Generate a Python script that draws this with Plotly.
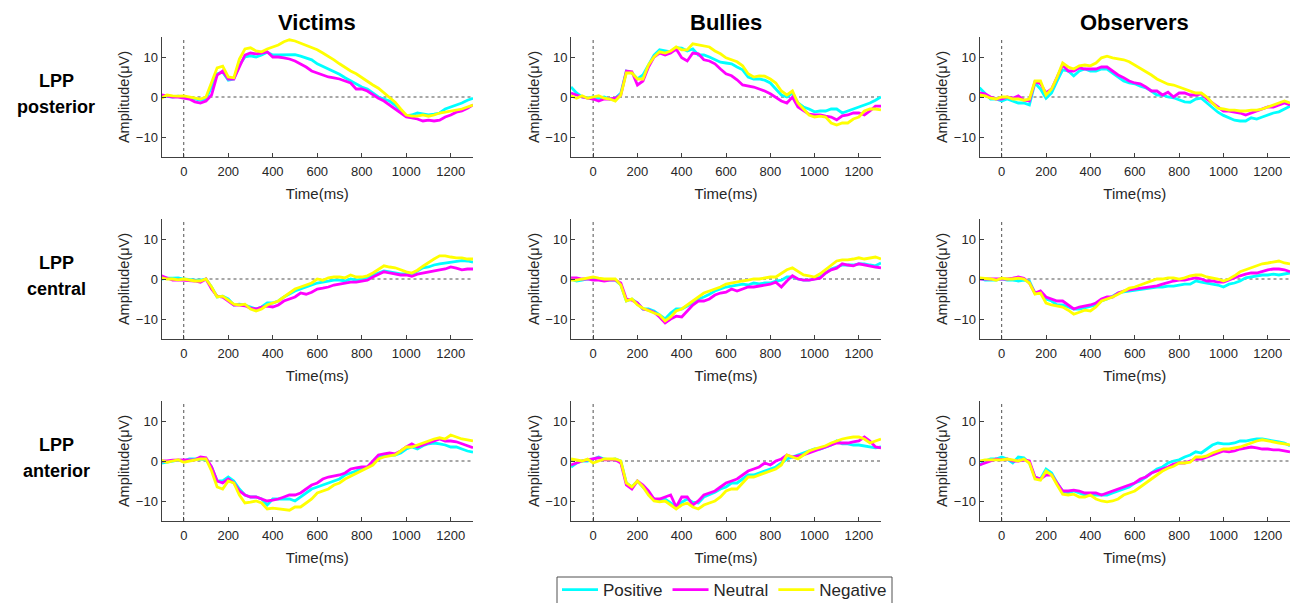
import plotly.graph_objects as go

# ---------------- data ----------------
T = list(range(-100, 1301, 25))

columns = ["Victims", "Bullies", "Observers"]
rows = [["LPP", "posterior"], ["LPP", "central"], ["LPP", "anterior"]]
conditions = ["Positive", "Neutral", "Negative"]
colors = ["#00FFFF", "#FF00FF", "#FFFF00"]

x_ticks = [0, 200, 400, 600, 800, 1000, 1200]
y_ticks = [-10, 0, 10]

# --- Victims, posterior ---
vic_post_pos = [0.3, 0.2, 0, 0.2, 0, -0.3, -0.5, -0.8, -0.5,
                2.5, 5.8, 6.2, 4.2, 4.5, 8, 10, 10.3,
                10, 10.5, 11.2, 10.5, 10.5, 10.5, 10.5, 10.6,
                10.2, 9.8, 9.3, 8.3, 7.7, 7.0, 6.3, 5.7,
                4.8, 4.0, 3.3, 2.5, 2, 1, 0, -0.5,
                -1, -2, -3.5, -4.7, -4.5, -4, -4.3, -4.5,
                -4.3, -4, -3, -2.5, -2, -1.5, -0.8, -0.3]
vic_post_neu = [0.5, 0.3, 0, 0, -0.2, -0.5, -1.2, -1.5, -1,
                0.5, 5.5, 6.5, 4.5, 4.5, 7.5, 10.5, 11,
                10.8, 11, 11.3, 10, 10, 9.8, 9.5, 9,
                8.3, 7.5, 6.5, 6, 5.5, 5, 4.8, 4.5,
                4, 3.5, 2, 2, 1.5, 0.5, -0.3, -1,
                -2, -3, -4, -5, -5.2, -5.5, -6, -5.8,
                -6, -5.8, -5, -4.5, -3.8, -3.5, -2.8, -2]
vic_post_neg = [-0.3, 0.5, 0.3, 0.2, 0.3, 0, -0.3, -0.5, 0,
                3.5, 7.3, 7.7, 5, 4.8, 9.5, 12, 12.3,
                11.5, 11.3, 12, 12.5, 13, 13.8, 14.3, 14,
                13.5, 12.8, 12.3, 11.8, 11, 10.2, 9.3, 8.3,
                7.3, 6.5, 5.8, 4.8, 3.8, 3, 2.2, 1,
                0, -1.3, -3, -4.5, -4.8, -4.8, -4.5, -4.8,
                -4.5, -4, -3.8, -3.5, -3.3, -3, -2.5, -2]

# --- Bullies, posterior ---
bul_post_pos = [2.5, 1, 0, -0.2, 0, -0.3, 0, -0.5, -0.3,
                1, 6.5, 6, 4.5, 5.5, 8, 10.5, 11.8,
                11.5, 11.3, 12.3, 12.2, 11.5, 12, 10.5, 10.5,
                10, 9.3, 8.7, 8.5, 8.3, 7.5, 6.8, 5,
                4.5, 4.5, 4.2, 3.5, 2, 0.5, 0, 1,
                -1.5, -2.5, -3, -3.7, -3.5, -3.5, -3, -3,
                -4, -3.5, -3, -2.5, -2, -1.5, -0.8, 0]
bul_post_neu = [1, 0.5, 0, -0.3, -0.5, -1, -0.5, -0.5, -0.3,
                0.5, 6.5, 6.3, 3, 4, 7.5, 10, 11,
                10.5, 11, 12, 9.8, 9, 11, 10.8, 9.3,
                9, 8.3, 7, 5.8, 5.3, 4.3, 3, 2.8,
                2.5, 2, 1.5, 0.8, 0, -1, -1.5, 0,
                -2.5, -3.5, -4.3, -4.5, -4.5, -4.8, -5, -5.7,
                -4.7, -4.5, -4, -4, -4.5, -3.5, -2.3, -2.3]
bul_post_neg = [0.3, -0.3, 0.3, -0.3, 0, 0.3, -0.3, -0.5, -1,
                0.5, 6, 6, 4.5, 4.5, 8, 10, 11.3,
                11, 11.5, 12.5, 11.8, 11.8, 13.3, 13, 12.8,
                12.5, 11.5, 10.8, 9.8, 9.3, 8.8, 7.8, 5.8,
                5, 5.3, 5.2, 4.5, 3.5, 1.5, 0.5, 1.5,
                -1.5, -3, -4.5, -5, -4.8, -5, -6.5, -7,
                -6.5, -6.5, -5.5, -5, -3.5, -3, -3, -3.2]

# --- Observers, posterior ---
obs_post_pos = [2.3, 1, -0.5, -0.5, -1, -0.5, -1, -1.5, -1.5,
                -2, 3.5, 2, -0.3, 1, 4, 6.8, 6.5,
                5.3, 6.5, 7, 6.5, 6.5, 7, 7, 6,
                5, 4, 3.5, 3.3, 2.7, 2.3, 1.5, 0.5,
                0.5, 0, -0.2, -0.7, -1.2, -1.3, -0.5, -0.3,
                -1.5, -2.5, -3.8, -4.6, -5.3, -5.8, -6, -6,
                -5.2, -5.5, -5, -4.5, -4, -3.7, -3, -2.3]
obs_post_neu = [1, 0.8, 0, -0.5, -0.5, 0, -0.3, 0.3, -0.8,
                -1, 3.8, 3.3, 1, 2, 5, 8, 6.5,
                6.5, 7.3, 7, 7, 7, 7.5, 7.5, 6.5,
                5.5, 4.8, 4, 3.5, 3.3, 2.5, 1.5, 1.5,
                0.5, 1.2, 0, 1, 1, 0.5, 0.5, 0.8,
                -0.5, -1.5, -2.5, -3.5, -3.5, -3.8, -4, -4.5,
                -4, -3.5, -3, -2.5, -2.5, -2, -1.5, -2]
obs_post_neg = [0.5, 0.3, -0.3, -0.5, 0, 0, -0.5, -0.5, -0.8,
                -0.5, 4, 4, 0.5, 2, 5, 8.5, 7.5,
                7, 7.8, 8, 7.8, 8.5, 9.8, 10.2, 9.8,
                9.5, 9.3, 8.8, 8, 7.3, 6.5, 5.5, 4.5,
                3.8, 3.2, 3, 2.5, 2, 1.5, 1, 1,
                0, -1.5, -2.8, -3, -3.3, -3.3, -3.5, -3.5,
                -3.3, -3.3, -3, -2.5, -2, -1.5, -1, -1.5]

# --- Victims, central ---
vic_cen_pos = [0, 0.2, 0.2, 0.3, 0, -0.2, -0.3, -0.3, 0,
               -2, -4.5, -4.3, -5, -6.5, -6.3, -6.5, -7,
               -7.5, -7, -6, -6, -5.5, -4.5, -3.7, -3,
               -2.5, -2, -1.5, -1, -0.8, -0.5, -0.3, -0.3,
               -0.5, 0, -0.3, 0, 0.3, 1, 1.5, 2,
               1.8, 1.5, 1.3, 1.3, 1.2, 2, 2.8, 3,
               3.5, 3.8, 4, 4.3, 4.5, 4.6, 4.5, 4.2]
vic_cen_neu = [0.8, 0.3, -0.3, -0.2, -0.3, -0.3, -0.5, -0.8, 0,
               -2.5, -4.3, -4.5, -5.5, -6.5, -6.5, -6.7, -7.3,
               -7.5, -7, -6.8, -7, -6.5, -5.5, -5, -4.5,
               -3.5, -3.8, -3.3, -2.5, -2.3, -2, -1.5, -1.3,
               -1, -0.8, -0.8, -0.5, -0.3, 0.5, 1.2, 1.8,
               1.5, 1.3, 1, 1, 0.7, 1.2, 1.5, 1.8,
               2, 2.3, 2.5, 3, 2.7, 2.3, 2.5, 2.5]
vic_cen_neg = [0.3, 0, 0, -0.2, 0, -0.3, -0.5, -0.5, 0,
               -2, -4.5, -4.3, -5.3, -6.3, -6.5, -6.3, -7.5,
               -8, -7.5, -6.5, -6, -5.5, -4.5, -3.5, -2.5,
               -2, -1.5, -1, 0, -0.3, 0.3, 0.5, 0.5,
               0.3, 1, 0.5, 0.5, 0.8, 1.5, 2.5, 3.3,
               3, 2.8, 2.3, 1.8, 1.5, 2.2, 3.2, 4.2,
               5, 5.8, 5.8, 5.5, 5.3, 5.3, 5, 5]

# --- Bullies, central ---
bul_cen_pos = [0, -0.5, -0.3, 0, 0, 0, -0.3, -0.2, -0.3,
               -1.5, -5.5, -5, -6, -7.5, -7.5, -8, -9,
               -10, -8.5, -7.5, -7.5, -6.8, -6, -5, -4.5,
               -3.8, -3, -2.5, -2, -1.8, -1.5, -1.3, -1.5,
               -1, -1.2, -1, -1, -0.5, -0.3, 0.5, 0.5,
               0, -0.3, -0.3, 0, 0.5, 1.5, 2.5, 3,
               3.5, 3.5, 3.5, 3.8, 3.8, 3.5, 3.3, 4]
bul_cen_neu = [0.3, 0.3, 0, 0, -0.3, -0.3, -0.5, -0.3, -0.3,
               -1, -5, -5.3, -6, -7.5, -7.8, -8.3, -9.5,
               -11, -10, -9.3, -9.5, -8, -6.5, -5.5, -5.5,
               -5, -4, -3.5, -3.3, -2.5, -3, -2.5, -2,
               -2, -1.8, -1.5, -1.3, -0.8, -2, -0.5, 0.8,
               0, -0.3, -0.3, 0, 0.2, 1.5, 2.3, 2.7,
               3.8, 3.5, 3.3, 3.8, 3.5, 3.3, 3, 2.8]
bul_cen_neg = [-0.3, -0.3, 0, 0.3, 0.5, 0.2, 0, 0, 0,
               -1.5, -5.5, -5, -6.5, -7.3, -8, -8.5, -9,
               -10.5, -9.5, -8, -7.5, -6.5, -5.5, -4.3, -3.5,
               -3, -2.5, -2, -1.3, -1, -0.8, -0.5, -0.3,
               0, 0, 0.3, 0.5, 0.5, 1.3, 2.3, 2.8,
               2, 1, 0.8, 0.5, 1.3, 2.3, 3.3, 4.5,
               4.8, 4.8, 5, 5.3, 5, 5.3, 5.5, 5]

# --- Observers, central ---
obs_cen_pos = [0.2, -0.3, -0.2, -0.3, 0, -0.3, -0.3, -0.5, -0.3,
               -0.5, -3.5, -3.5, -5, -5.5, -6.5, -6.5, -7,
               -7.5, -7.5, -7.2, -6.8, -6.5, -5.5, -5, -4.3,
               -3.5, -3.2, -3, -2.8, -2.5, -2.3, -2.2, -2,
               -2, -1.8, -1.8, -1.5, -1.3, -1.3, -0.5, -0.8,
               -1, -1.3, -1.5, -2, -1.3, -1, -0.5, 0.3,
               0.5, 0.8, 1, 1, 1.2, 1, 1.3, 1.5]
obs_cen_neu = [0, 0, 0, 0, 0, 0, 0.2, 0.5, 0.2,
               -1, -3.5, -3, -4.5, -5, -5.5, -5.5, -6.5,
               -7.5, -7, -6.8, -6.5, -6, -5, -4.5, -4.5,
               -3.5, -3, -2.7, -2.5, -2.3, -2, -1.8, -1.7,
               -1.3, -0.8, -0.5, -0.3, -0.3, 0, 0.3, 0,
               -0.5, -0.5, -0.8, -0.8, -0.2, 0.2, 0.8, 1.2,
               1.5, 1.5, 2, 2.3, 2.5, 2.5, 2.3, 1.8]
obs_cen_neg = [0.3, 0.2, 0, -0.3, 0.2, 0, 0, 0.2, 0,
               -1, -3.8, -3.5, -6, -6.5, -6.8, -7, -7.8,
               -8.8, -8.3, -7.8, -8, -7, -5.5, -5, -4.5,
               -3.8, -3, -2.3, -2, -1.5, -1, -0.5, 0,
               0, 0.3, 0.3, 0, 0.3, 0.8, 1, 1,
               0.5, 0.3, 0, -0.5, 0, 0.8, 1.8, 2.3,
               2.8, 3.3, 3.8, 4, 4.3, 4.5, 4, 3.8]

# --- Victims, anterior ---
vic_ant_pos = [-0.5, -0.2, 0, 0.2, 0, 0.5, 0.5, 0.5, 0.3,
               -1.5, -5, -5, -4, -5, -7, -8.5, -9,
               -9, -9.5, -11, -9.5, -9.5, -9.5, -9.5, -10,
               -9, -8, -7, -6.5, -6, -5.5, -5, -4.5,
               -3.5, -3, -2.5, -1.8, -1.5, -0.5, 0.8, 1.3,
               1.5, 1.5, 2, 3, 3.5, 3, 3.8, 4.3,
               4.5, 4.3, 4, 3.5, 3.5, 3, 2.5, 2.2]
vic_ant_neu = [0, 0, 0.2, 0.3, 0.3, 0.3, 0.3, 1, 0.8,
               -1.5, -5, -5.5, -4.5, -5.5, -7.5, -8.5, -9,
               -9, -9.5, -10, -9.8, -9.5, -9, -8.5, -8.5,
               -8, -7, -6, -5.5, -4.5, -4, -3.8, -3.5,
               -3, -2, -1.7, -1.5, -1.5, 0, 1.5, 1.8,
               2, 1.8, 2.5, 3.5, 4.3, 3.5, 4, 4.5,
               5, 5.5, 5, 5, 4.8, 4.3, 3.8, 3.3]
vic_ant_neg = [0.2, -0.3, 0, 0.3, -0.3, 0, 0.3, 0.5, 0.5,
               -2.5, -6.5, -7, -5, -5.5, -8.5, -10.5, -10.3,
               -10, -10.5, -12, -11.8, -12, -12.2, -12.3, -11.5,
               -11.5, -10.5, -9.5, -8, -7.5, -7, -6, -5.5,
               -4.5, -3.8, -3, -2.2, -1.5, -1, 0.5, 1,
               1.3, 1.5, 2.5, 3.5, 3.5, 4, 4.5, 5,
               5.5, 5.8, 5.5, 6.5, 6, 5.5, 5.3, 5]

# --- Bullies, anterior ---
bul_ant_pos = [-1.5, -0.5, 0, 0, 0.5, 1, 0.5, 0.3, 0.5,
               0, -5.5, -6.5, -5, -6.5, -8, -9.5, -10,
               -9.5, -10.5, -11.5, -10.3, -9.5, -10.3, -10.5, -9,
               -8.5, -7.8, -7, -6.5, -5.5, -5.5, -4.5, -3.5,
               -3.5, -3, -2.5, -2, -1.5, -0.5, 0.5, 1,
               1.5, 2, 2.5, 3, 3, 3.5, 4, 5,
               4.3, 4.3, 4, 4, 3.8, 3.5, 3.3, 3.5]
bul_ant_neu = [-1, -0.5, 0, 0.3, 0.5, 0.8, 0.3, 0.3, 0.3,
               -0.5, -6, -7, -5, -6, -7.5, -9.5, -9.5,
               -9, -8.5, -11.5, -9, -9, -11, -10, -8.5,
               -8, -7.5, -6.5, -5.5, -5, -4.5, -3.5, -2.5,
               -2, -1.5, -0.5, -1, 0, 0.5, 1.5, 1,
               1.3, 1.5, 2, 2.5, 3, 3.5, 4, 4.5,
               4.5, 4.5, 4.8, 5, 6, 5, 3.5, 3.3]
bul_ant_neg = [0.5, 0.3, 0, 0.5, -0.5, 0, 0.5, 0.5, 0.5,
               0, -5.5, -6.5, -5, -6.5, -8.5, -10, -10.2,
               -10, -11, -12, -11, -10.5, -11.5, -12, -11,
               -10.5, -10, -9, -7.5, -7, -7, -5.5, -4,
               -4, -3.5, -3, -2.5, -2, -1, 1.5, 1,
               0.5, 1.5, 2.5, 3, 3.5, 3.8, 4.5, 5,
               5.5, 5.8, 6, 6, 5.5, 4.5, 5, 5.5]

# --- Observers, anterior ---
obs_ant_pos = [-1, 0, 0.5, 0.5, 1, 0.5, -0.5, 1, 0.8,
               -0.5, -4, -4.5, -2, -3, -5.5, -7.5, -8,
               -7.5, -8, -8.5, -8.5, -8.5, -8.5, -8.5, -8,
               -7.5, -7, -6.5, -5.5, -5, -4, -3, -2,
               -1.5, -0.5, 0, 0.3, 1, 1.5, 2.3, 2,
               3, 4, 4.5, 4.3, 4.3, 4.5, 5, 5,
               5.3, 5.5, 5.5, 5.3, 5, 4.8, 4.5, 3.8]
obs_ant_neu = [-1, -0.5, 0, 0.5, 0.3, 0.5, 0, 0, 0.3,
               0, -4, -4.5, -3.5, -3.5, -5.5, -7.5, -7.5,
               -7.3, -7.5, -8, -8, -8, -8.5, -8, -7.5,
               -7, -6.5, -6, -5.5, -4.5, -4, -3, -2.5,
               -2, -1.5, -0.8, -0.5, -0.5, 0, 0.5, 0.5,
               1, 1.5, 2, 2.5, 2.3, 2.5, 3, 3.3,
               3.5, 3.3, 3, 3, 2.8, 2.8, 2.5, 2.3]
obs_ant_neg = [0, 0.3, 0.3, 0.3, 0.3, 0.5, 0.3, 0, 0.5,
               -0.5, -4.5, -4.8, -2.5, -3.5, -6, -8.3, -8.5,
               -8.3, -9, -9, -8.5, -9.5, -10, -10.2, -10,
               -9.5, -8.5, -8, -7.5, -6.5, -5.5, -4.5, -3.5,
               -2.5, -1.8, -1.3, -0.5, -0.5, -0.3, 1, 1,
               1.3, 2, 2.5, 3, 3, 3.3, 3.5, 4,
               4.5, 5, 5.3, 5, 4.8, 4.5, 4.3, 4]

panel_data = [
    [(vic_post_pos, vic_post_neu, vic_post_neg),
     (bul_post_pos, bul_post_neu, bul_post_neg),
     (obs_post_pos, obs_post_neu, obs_post_neg)],
    [(vic_cen_pos, vic_cen_neu, vic_cen_neg),
     (bul_cen_pos, bul_cen_neu, bul_cen_neg),
     (obs_cen_pos, obs_cen_neu, obs_cen_neg)],
    [(vic_ant_pos, vic_ant_neu, vic_ant_neg),
     (bul_ant_pos, bul_ant_neu, bul_ant_neg),
     (obs_ant_pos, obs_ant_neu, obs_ant_neg)],
]

# ---------------- layout geometry ----------------
# The page body has an 8px default margin, so the figure starts at (8, 8)
OFF = 8
W, H = 1301 - OFF, 603 - OFF
col_px = [(161.5, 473.0), (571.0, 881.0), (979.5, 1290.0)]   # window pixels
row_px = [(37.0, 157.0), (219.0, 339.0), (401.0, 521.0)]


def px(x):
    return (x - OFF) / W


def py(y):
    return 1 - (y - OFF) / H


FONT = "Arial, Liberation Sans, sans-serif"
AX = "#404040"
TXT = "#262626"

fig = go.Figure()
layout = dict(
    width=W, height=H,
    margin=dict(l=0, r=0, t=0, b=0, autoexpand=False),
    paper_bgcolor="white", plot_bgcolor="white",
    font=dict(family=FONT, color=TXT),
    showlegend=True,
)
shapes = []
annotations = []

for r in range(3):
    for c in range(3):
        k = r * 3 + c + 1
        xa = "xaxis" if k == 1 else f"xaxis{k}"
        ya = "yaxis" if k == 1 else f"yaxis{k}"
        xr = "x" if k == 1 else f"x{k}"
        yr = "y" if k == 1 else f"y{k}"
        x0, x1 = col_px[c]
        y0, y1 = row_px[r]
        layout[xa] = dict(
            domain=[px(x0), px(x1)], anchor=yr, range=[-100, 1300],
            tickvals=x_ticks, ticks="inside", ticklen=4, tickcolor=AX,
            showline=True, linecolor=AX, linewidth=1, showgrid=False, zeroline=False,
            tickfont=dict(size=13, color=TXT, family=FONT), ticklabelstandoff=2,
            title=dict(text="Time(ms)", font=dict(size=15, color=TXT, family=FONT), standoff=10),
        )
        layout[ya] = dict(
            domain=[py(y1), py(y0)], anchor=xr, range=[-15, 15],
            tickvals=y_ticks, ticks="inside", ticklen=4, tickcolor=AX,
            showline=True, linecolor=AX, linewidth=1, showgrid=False, zeroline=False,
            tickfont=dict(size=13, color=TXT, family=FONT),
            title=dict(text="Amplitude(μV)", font=dict(size=14.5, color=TXT, family=FONT), standoff=2),
        )
        # dotted reference lines
        shapes.append(dict(type="line", xref=xr, yref=yr, x0=-100, x1=1300, y0=0, y1=0,
                           line=dict(color="#505050", width=1, dash="dot"), layer="below"))
        shapes.append(dict(type="line", xref=xr, yref=yr, x0=0, x1=0, y0=-15, y1=15,
                           line=dict(color="#505050", width=1, dash="dot"), layer="below"))
        for i, series in enumerate(panel_data[r][c]):
            fig.add_trace(go.Scatter(
                x=T, y=series, mode="lines", xaxis=xr, yaxis=yr,
                name=conditions[i], legendgroup=conditions[i],
                showlegend=(k == 1),
                line=dict(color=colors[i], width=2.8),
            ))

# column titles
for c, name in enumerate(columns):
    x0, x1 = col_px[c]
    annotations.append(dict(text=f"<b>{name}</b>", x=px((x0 + x1) / 2), y=py(22),
                            xref="paper", yref="paper", showarrow=False,
                            font=dict(size=22, color="black", family=FONT),
                            xanchor="center", yanchor="middle"))
# row labels (two lines each)
for r, lab in enumerate(rows):
    y0, y1 = row_px[r]
    yc = (y0 + y1) / 2
    for j, (txt, dy) in enumerate(zip(lab, (-16, 10))):
        annotations.append(dict(text=f"<b>{txt}</b>", x=px(56), y=py(yc + dy),
                                xref="paper", yref="paper", showarrow=False, align="center",
                                font=dict(size=18, color="black", family=FONT),
                                xanchor="center", yanchor="middle"))

# legend frame (bottom edge runs off the page, as in the reference)
shapes.append(dict(type="rect", xref="paper", yref="paper",
                   x0=px(557), x1=px(892), y0=py(640), y1=py(577),
                   line=dict(color="#505050", width=1), fillcolor="rgba(0,0,0,0)"))

layout["shapes"] = shapes
layout["annotations"] = annotations
layout["legend"] = dict(
    orientation="h", x=px(557), y=py(572), xanchor="left", yanchor="top",
    borderwidth=0, bgcolor="rgba(0,0,0,0)",
    font=dict(size=17, color=TXT, family=FONT),
    itemwidth=36, tracegroupgap=0,
)
fig.update_layout(**layout)
fig.write_html("out.html")
